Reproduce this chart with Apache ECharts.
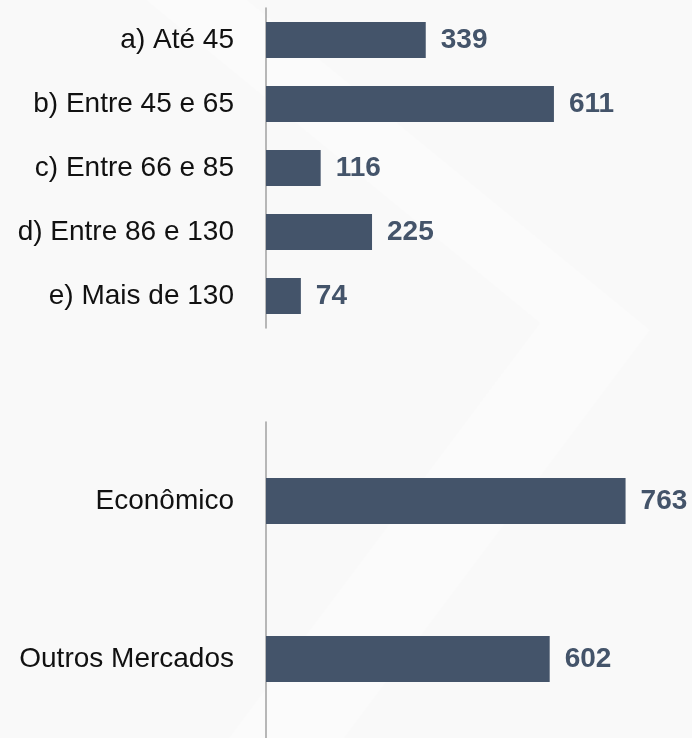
<!DOCTYPE html>
<html>
<head>
<meta charset="utf-8">
<script src="https://cdn.jsdelivr.net/npm/echarts@6/dist/echarts.min.js"></script>
<style>
  html, body { margin: 0; padding: 0; background: #f9f9f9; }
  #chart-container { width: 692px; height: 738px; }
</style>
</head>
<body>
<div id="chart-container"></div>
<script>
var faixas = ['a) Até 45', 'b) Entre 45 e 65', 'c) Entre 66 e 85', 'd) Entre 86 e 130', 'e) Mais de 130'];
var faixaValores = [339, 611, 116, 225, 74];
var segmentos = ['Econômico', 'Outros Mercados'];
var segmentoValores = [763, 602];

var dom = document.getElementById('chart-container');
var myChart = echarts.init(dom, null, { renderer: 'canvas' });

var barColor = '#44546a';
var fonte = '"Liberation Sans", Arial, sans-serif';

function eixoCategoria(gridIndex, dados) {
  return {
    type: 'category',
    gridIndex: gridIndex,
    data: dados,
    inverse: true,
    axisLine: { show: true, lineStyle: { color: '#a0a0a0', width: 1.5 } },
    axisTick: { show: false },
    axisLabel: { margin: 32, fontSize: 28, color: '#111', fontFamily: fonte }
  };
}

function eixoValor(gridIndex) {
  return {
    type: 'value',
    gridIndex: gridIndex,
    min: 0,
    max: 800,
    show: false,
    splitLine: { show: false }
  };
}

function serie(idx, valores, largura) {
  return {
    type: 'bar',
    xAxisIndex: idx,
    yAxisIndex: idx,
    data: valores,
    barWidth: largura,
    itemStyle: { color: barColor },
    label: {
      show: true,
      position: 'right',
      distance: 15,
      fontSize: 28,
      fontWeight: 'bold',
      color: barColor,
      fontFamily: fonte
    }
  };
}

var option = {
  backgroundColor: '#f9f9f9',
  animation: false,
  // faixa clara em forma de seta no fundo (bem sutil)
  graphic: [{
    type: 'polygon',
    z: -10,
    silent: true,
    shape: { points: [[247, 0], [650, 330], [344, 738], [229, 738], [540, 323], [146, 0]] },
    style: { fill: '#fbfbfb' }
  }],
  grid: [
    { left: 266, top: 8, width: 377, height: 320 },
    { left: 266, top: 422, width: 377, height: 320 }
  ],
  xAxis: [eixoValor(0), eixoValor(1)],
  yAxis: [eixoCategoria(0, faixas), eixoCategoria(1, segmentos)],
  series: [
    serie(0, faixaValores, 36),
    serie(1, segmentoValores, 46)
  ]
};

if (option && typeof option === 'object') {
  myChart.setOption(option);
}

window.addEventListener('resize', myChart.resize);
</script>
</body>
</html>
